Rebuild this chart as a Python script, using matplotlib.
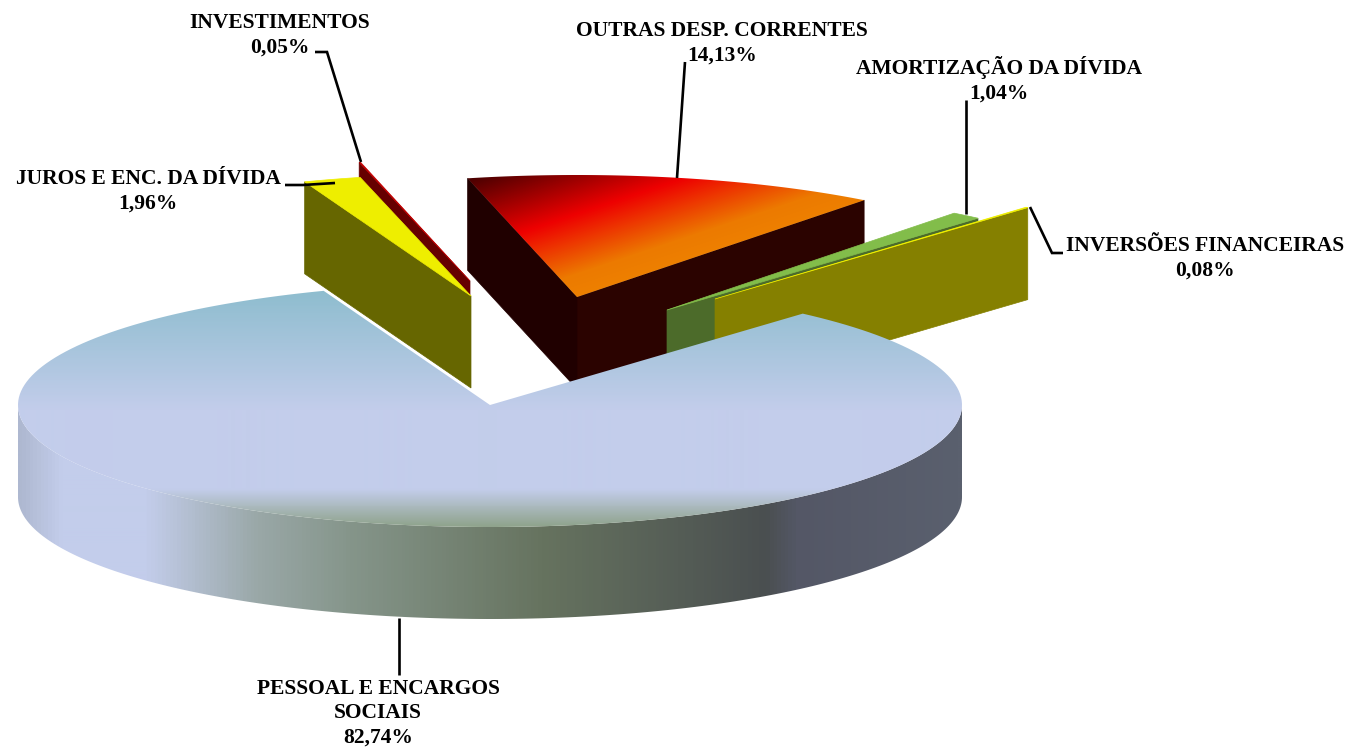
import matplotlib
matplotlib.use("Agg")
import matplotlib.pyplot as plt
import numpy as np
from matplotlib.colors import LinearSegmentedColormap, to_rgb
from matplotlib.patches import Polygon

# Values as printed on the chart, counter-clockwise from the main slice's right edge
categories = [
    "INVERSÕES FINANCEIRAS",
    "AMORTIZAÇÃO DA DÍVIDA",
    "OUTRAS DESP. CORRENTES",
    "INVESTIMENTOS",
    "JUROS E ENC. DA DÍVIDA",
    "PESSOAL E ENCARGOS SOCIAIS",
]
values = [0.08, 1.04, 14.13, 0.05, 1.96, 82.74]
value_labels = ["0,08%", "1,04%", "14,13%", "0,05%", "1,96%", "82,74%"]

# Pie geometry, in image pixels
START_ANGLE = 48.5
RX, RY = 472, 122
DEPTH = 92
apexes = [(715, 299), (667, 310), (577, 297), (470, 281), (471, 296), (490, 405)]
top_colors = ["#eeee00", "#82bd4a", "#ee0000", "#c00000", "#eeee00", "#c3cdeb"]
face_colors = ["#858000", "#4c6b2a", "#2b0300", "#660000", "#666600", "#555866"]

fig = plt.figure(figsize=(13.49, 7.47), dpi=100)
ax = fig.add_axes([0, 0, 1, 1])


def rim(apex, a0, a1, n=200):
    t = np.radians(np.linspace(a0, a1, n))
    return np.column_stack([apex[0] + RX * np.cos(t), apex[1] - RY * np.sin(t)])


def top_poly(apex, a0, a1):
    return np.vstack([[apex], rim(apex, a0, a1)])


def cut_face(apex, angle):
    p = rim(apex, angle, angle, 1)[0]
    return [apex, tuple(p), (p[0], p[1] + DEPTH), (apex[0], apex[1] + DEPTH)]


def gradient_fill(poly, data, extent, stops, z):
    cmap = LinearSegmentedColormap.from_list("g", [(s, to_rgb(c)) for s, c in stops])
    im = ax.imshow(data, extent=extent, cmap=cmap, vmin=0, vmax=1, aspect="auto",
                   interpolation="bilinear", zorder=z, origin="upper")
    patch = Polygon(poly, closed=True, transform=ax.transData, fc="none", ec="none")
    ax.add_patch(patch)
    im.set_clip_path(patch)


edges = START_ANGLE + np.cumsum([0] + values) * 3.6

# back slices first, main slice goes on top of everything
# 0 inversoes, 1 amortizacao, 2 outras, 3 investimentos, 4 juros
z = {3: 2, 4: 3, 2: 4, 1: 5, 0: 6}
for i in [3, 4, 2, 1, 0]:
    a0, a1 = edges[i], edges[i + 1]
    apex = apexes[i]
    if i in (3, 4):
        # right-facing cut is hidden, left cut shows
        ax.add_patch(Polygon(cut_face(apex, a1), fc=face_colors[i], ec=face_colors[i],
                             lw=0.5, zorder=z[i]))
    else:
        ax.add_patch(Polygon(cut_face(apex, a0), fc=face_colors[i], ec=face_colors[i],
                             lw=0.5, zorder=z[i]))
    if i == 2:
        # left cut of the big slice is a bit darker
        ax.add_patch(Polygon(cut_face(apex, a1), fc="#200000", ec="#200000", lw=0.5, zorder=z[i]))
        xx, yy = np.meshgrid(np.arange(440, 900), np.arange(160, 310))
        d = (0.316 * xx + 0.949 * yy - 317) / (464 - 317)
        gradient_fill(top_poly(apex, a0, a1), np.clip(d, 0, 1), (440, 900, 310, 160),
                      [(0, "#4a0000"), (0.46, "#ee0000"), (0.85, "#ec7a00"), (1, "#ee8000")], z[i] + 0.5)
    else:
        ax.add_patch(Polygon(top_poly(apex, a0, a1), fc=top_colors[i], ec=top_colors[i],
                             lw=0.5, zorder=z[i] + 0.5))

# main slice: side wall then top
a0, a1 = edges[5], edges[6]
apex = apexes[5]
front = rim(apex, 180, 360)
wall = np.vstack([front, (front + [0, DEPTH])[::-1]])
ramp = np.linspace(0, 1, 944).reshape(1, -1)
x_stops = [(18, "#aeb8d0"), (60, "#c3cdeb"), (144, "#c3cdeb"), (255, "#9aa8a8"), (350, "#85958a"),
           (543, "#66735f"), (766, "#4a4f50"), (798, "#545766"), (961, "#5a606e")]
gradient_fill(wall, ramp, (18, 962, 640, 380),
              [((x - 18) / 943, c) for x, c in x_stops], 7)

ramp = np.linspace(0, 1, 246).reshape(-1, 1)
y_stops = [(283, "#8bbccd"), (410, "#c3cdeb"), (490, "#c3cdeb"), (505, "#aebcc4"), (527, "#8fa38c"), (529, "#8fa38c")]
gradient_fill(top_poly(apex, a0, a1), ramp, (18, 962, 529, 283),
              [((y - 283) / 246, c) for y, c in y_stops], 8)

# leader lines
leaders = [
    [(1030, 207), (1052, 253), (1063, 253)],
    [(966, 214), (966, 100)],
    [(677, 178), (685, 62)],
    [(361, 162), (327, 52), (315, 52)],
    [(335, 183), (303, 185), (285, 185)],
    [(399, 618), (399, 675)],
]
for pts in leaders:
    ax.plot(*zip(*pts), color="black", lw=1.9, zorder=9, solid_capstyle="butt", solid_joinstyle="miter")

# labels
label_pos = [(1205, 258), (999, 79.5), (722, 43), (280, 35), (148, 191), (378, 713)]
names = list(categories)
names[5] = "PESSOAL E ENCARGOS\nSOCIAIS"
for name, val, (x, y) in zip(names, value_labels, label_pos):
    ax.text(x, y, f"{name}\n{val}", ha="center", va="center", fontsize=15.5, fontweight="bold",
            family="Liberation Serif", color="black", linespacing=1.3, zorder=10)

ax.set_xlim(0, 1349)
ax.set_ylim(747, 0)
ax.axis("off")

fig.savefig("out.png", dpi=100, facecolor="white")
